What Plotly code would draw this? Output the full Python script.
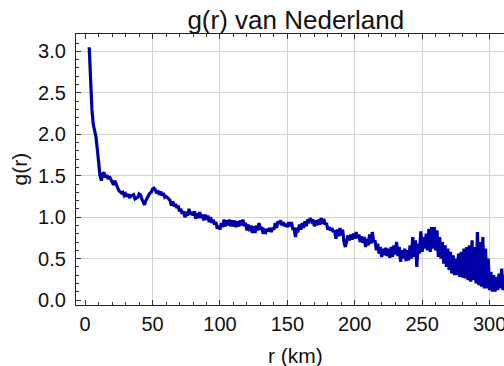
import plotly.graph_objects as go

# r in km (sampling grid) and g(r) values
r_km = list(range(3, 316))
g_vals = [
    3.05, 2.60, 2.30, 2.12, 2.05, 1.97, 1.82, 1.64, 1.50, 1.44,   # 3-12
    1.52, 1.54, 1.48, 1.51, 1.46, 1.49, 1.46, 1.42, 1.39, 1.44,   # 13-22
    1.41, 1.36, 1.32, 1.31, 1.29, 1.30, 1.26, 1.28, 1.25, 1.28,   # 23-32
    1.23, 1.26, 1.26, 1.27, 1.22, 1.23, 1.24, 1.28, 1.27, 1.22,   # 33-42
    1.19, 1.15, 1.20, 1.24, 1.26, 1.29, 1.30, 1.34, 1.35, 1.33,   # 43-52
    1.29, 1.32, 1.27, 1.31, 1.26, 1.29, 1.24, 1.25, 1.24, 1.22,   # 53-62
    1.20, 1.14, 1.19, 1.13, 1.16, 1.11, 1.14, 1.07, 1.10, 1.04,   # 63-72
    1.07, 1.00, 1.04, 1.02, 1.10, 1.03, 1.06, 1.02, 1.07, 0.98,   # 73-82
    1.05, 0.99, 1.06, 0.99, 1.03, 0.96, 1.03, 0.97, 1.02, 0.94,   # 83-92
    1.00, 0.93, 0.97, 0.91, 0.94, 0.86, 0.90, 0.85, 0.93, 0.88,   # 93-102
    0.97, 0.89, 0.96, 0.90, 0.97, 0.89, 0.96, 0.89, 0.96, 0.88,   # 103-112
    0.95, 0.89, 0.96, 0.90, 0.97, 0.89, 0.93, 0.84, 0.91, 0.83,   # 113-122
    0.90, 0.81, 0.89, 0.81, 0.90, 0.84, 0.93, 0.85, 0.88, 0.80,   # 123-132
    0.84, 0.82, 0.86, 0.83, 0.87, 0.82, 0.87, 0.85, 0.93, 0.87,   # 133-142
    0.95, 0.92, 0.96, 0.90, 0.94, 0.89, 0.92, 0.88, 0.94, 0.89,   # 143-152
    0.94, 0.86, 0.86, 0.76, 0.85, 0.84, 0.91, 0.85, 0.93, 0.87,   # 153-162
    0.95, 0.89, 0.97, 0.95, 0.99, 0.95, 0.97, 0.89, 0.96, 0.90,   # 163-172
    0.97, 0.91, 0.99, 0.92, 0.98, 0.91, 0.93, 0.85, 0.88, 0.84,   # 173-182
    0.87, 0.82, 0.84, 0.74, 0.85, 0.77, 0.87, 0.78, 0.85, 0.70,   # 183-192
    0.64, 0.72, 0.78, 0.72, 0.79, 0.73, 0.80, 0.74, 0.82, 0.75,   # 193-202
    0.79, 0.70, 0.77, 0.69, 0.76, 0.64, 0.74, 0.66, 0.79, 0.68,   # 203-212
    0.82, 0.70, 0.72, 0.60, 0.68, 0.56, 0.64, 0.52, 0.62, 0.54,   # 213-222
    0.63, 0.53, 0.62, 0.51, 0.64, 0.52, 0.66, 0.55, 0.70, 0.53,   # 223-232
    0.64, 0.46, 0.60, 0.50, 0.62, 0.47, 0.60, 0.48, 0.66, 0.50,   # 233-242
    0.76, 0.52, 0.72, 0.40, 0.68, 0.56, 0.83, 0.58, 0.76, 0.62,   # 243-252
    0.80, 0.60, 0.86, 0.58, 0.88, 0.62, 0.88, 0.60, 0.84, 0.52,   # 253-262
    0.76, 0.50, 0.70, 0.44, 0.66, 0.40, 0.62, 0.36, 0.58, 0.32,   # 263-272
    0.54, 0.30, 0.50, 0.30, 0.56, 0.28, 0.58, 0.27, 0.62, 0.26,   # 273-282
    0.64, 0.24, 0.66, 0.22, 0.72, 0.24, 0.64, 0.20, 0.82, 0.18,   # 283-292
    0.70, 0.16, 0.76, 0.14, 0.62, 0.14, 0.50, 0.12, 0.34, 0.10,   # 293-302
    0.30, 0.10, 0.28, 0.12, 0.32, 0.14, 0.38, 0.12, 0.30, 0.14,   # 303-312
    0.26, 0.12, 0.28,                                              # 313-315
]

title_text = "g(r) van Nederland"
x_label = "r (km)"
y_label = "g(r)"

FONT = "Liberation Sans, Arial, sans-serif"
L, R, T, B = 76, 0, 34, 61
W, H = 504, 366
pw = W - L - R
ph = H - T - B

fig = go.Figure()
fig.add_trace(go.Scatter(
    x=r_km, y=g_vals, mode="lines",
    line=dict(color="#0000a8", width=3.2),
    showlegend=False, hoverinfo="skip",
))

axis_common = dict(
    showline=True, linecolor="#222222", linewidth=1.3,
    ticks="inside", ticklen=5, tickwidth=1, tickcolor="#333333",
    showgrid=True, gridcolor="#d3d3d3", gridwidth=1,
    zeroline=True, zerolinecolor="rgba(0,0,0,0)",
    tickfont=dict(family=FONT, size=20, color="#111111"),
    ticklabeloverflow="allow",
)

fig.update_xaxes(
    **axis_common,
    range=[-6.8, 310.7], tick0=0, dtick=50,
    minor=dict(ticks="inside", ticklen=3, dtick=10, tick0=0,
               tickcolor="#333333", showgrid=False),
    mirror="allticks", ticklabelstandoff=1,
)
fig.update_yaxes(
    **axis_common,
    range=[-0.06, 3.21], tick0=0, dtick=0.5, tickformat=".1f",
    minor=dict(ticks="inside", ticklen=3, dtick=0.1, tick0=0,
               tickcolor="#333333", showgrid=False),
    mirror=False, ticklabelstandoff=5,
)

fig.update_layout(
    width=W, height=H,
    margin=dict(l=L, r=R, t=T, b=B, autoexpand=False),
    paper_bgcolor="white", plot_bgcolor="white",
    title=dict(text=title_text, font=dict(family=FONT, size=26, color="#111111"),
               x=(295.8 - L) / pw, xref="paper", xanchor="center",
               y=1 - 20 / H, yref="container", yanchor="middle"),
    annotations=[
        dict(text=x_label, xref="paper", yref="paper",
             x=(295.5 - L) / pw, y=-(356 - (T + ph)) / ph,
             xanchor="center", yanchor="middle", showarrow=False,
             font=dict(family=FONT, size=21, color="#111111")),
        dict(text=y_label, xref="paper", yref="paper",
             x=(19 - L) / pw, y=0.5, textangle=-90,
             xanchor="center", yanchor="middle", showarrow=False,
             font=dict(family=FONT, size=21, color="#111111")),
    ],
)

fig.write_html("out.html")
